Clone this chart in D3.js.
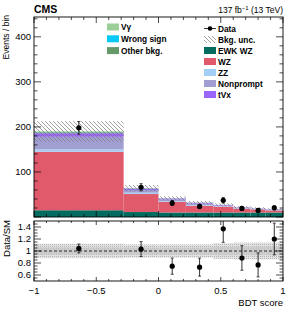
<!DOCTYPE html>
<html>
<head>
<meta charset="utf-8">
<script src="https://cdn.jsdelivr.net/npm/d3@7"></script>
<style>
body { margin: 0; background: #fff; }
text { font-family: "Liberation Sans", Arial, Helvetica, sans-serif; }
</style>
</head>
<body>
<svg id="chart" width="299" height="310"></svg>
<script>
// bin edges in BDT score
var binEdges = [-1, -0.28, 0, 0.22, 0.44, 0.6, 0.74, 0.86, 1];

// background processes, bottom of the stack first
var processes = ["EWK WZ", "WZ", "ZZ", "Nonprompt", "tVx", "Other bkg.", "Wrong sign", "V\u03b3"];
var procColors = {
  "EWK WZ": "#006b5e",
  "WZ": "#e05a6c",
  "ZZ": "#a3cff7",
  "Nonprompt": "#a19fd1",
  "tVx": "#9b67fb",
  "Other bkg.": "#66996a",
  "Wrong sign": "#06c9f7",
  "V\u03b3": "#9ccf98"
};
var ewkWZ     = [15, 11, 10, 10, 10, 10, 10, 10];
var wz        = [130, 40, 24, 15, 13, 8, 6.5, 4.5];
var zz        = [5, 3, 1.5, 1.5, 1, 0.8, 0.5, 0.5];
var nonprompt = [28, 6, 3.5, 3.5, 1.5, 1.5, 1, 1];
var tvx       = [8, 3, 2, 1.5, 1.2, 1, 0.8, 0.8];
var otherBkg  = [2, 0.5, 0.4, 0.4, 0.2, 0.15, 0.15, 0.15];
var wrongSign = [0.5, 0.2, 0.05, 0.05, 0.05, 0.02, 0.02, 0.02];
var vgamma    = [1.5, 0.3, 0.05, 0.05, 0.05, 0.03, 0.03, 0.03];

// relative background uncertainty per bin
var bkgUnc   = [0.12, 0.11, 0.11, 0.11, 0.13, 0.14, 0.14, 0.14];
var bkgUncIn = [0.06, 0.06, 0.06, 0.06, 0.07, 0.07, 0.07, 0.07];

// observed data
var dataCounts = [198, 66, 31, 23.4, 37, 19, 14.6, 20.4];
var dataErr    = [14, 8, 5.6, 4.8, 6.1, 4.4, 3.8, 4.5];

var yTicksTop = [100, 200, 300, 400];
var yTicksRatio = [0.6, 0.8, 1, 1.2, 1.4];
var xTicks = [-1, -0.5, 0, 0.5, 1];

var procValues = {
  "EWK WZ": ewkWZ, "WZ": wz, "ZZ": zz, "Nonprompt": nonprompt, "tVx": tvx,
  "Other bkg.": otherBkg, "Wrong sign": wrongSign, "V\u03b3": vgamma
};

var bins = d3.range(binEdges.length - 1).map(function(i) {
  var row = { lo: binEdges[i], hi: binEdges[i + 1] };
  processes.forEach(function(p) { row[p] = procValues[p][i]; });
  return row;
});
var totals = bins.map(function(b) { return d3.sum(processes, function(p) { return b[p]; }); });

var svg = d3.select("#chart");
var left = 34, right = 283;
var top1 = 17, bot1 = 217, top2 = 221, bot2 = 281;

var x = d3.scaleLinear().domain([-1, 1]).range([left, right]);
var y = d3.scaleLinear().domain([0, 444]).range([bot1, top1]);
var yr = d3.scaleLinear().domain([0.5, 1.5]).range([bot2, top2]);

var defs = svg.append("defs");
defs.append("clipPath").attr("id", "clipTop")
  .append("rect").attr("x", left).attr("y", top1).attr("width", right - left).attr("height", bot1 - top1);
defs.append("clipPath").attr("id", "clipBot")
  .append("rect").attr("x", left).attr("y", top2).attr("width", right - left).attr("height", bot2 - top2);

var hatch = defs.append("pattern").attr("id", "hatch")
  .attr("patternUnits", "userSpaceOnUse").attr("width", 4).attr("height", 4);
hatch.append("path")
  .attr("d", "M0,0L4,4M-1,3L1,5M3,-1L5,1")
  .attr("stroke", "#7a7a7a").attr("stroke-width", 0.7);

var dots = defs.append("pattern").attr("id", "dots")
  .attr("patternUnits", "userSpaceOnUse").attr("width", 2).attr("height", 2);
dots.append("rect").attr("width", 2).attr("height", 2).attr("fill", "#e2e2e2");
dots.append("rect").attr("width", 1).attr("height", 1).attr("fill", "#b4b4b4");

// ---- upper panel: stacked histogram
var stacked = d3.stack().keys(processes)(bins);
var gTop = svg.append("g").attr("clip-path", "url(#clipTop)");

gTop.selectAll("g.layer")
  .data(stacked)
  .enter().append("g")
  .attr("fill", function(d) { return procColors[d.key]; })
  .selectAll("rect")
  .data(function(d) { return d; })
  .enter().append("rect")
  .attr("x", function(d) { return x(d.data.lo); })
  .attr("width", function(d) { return x(d.data.hi) - x(d.data.lo); })
  .attr("y", function(d) { return y(d[1]); })
  .attr("height", function(d) { return y(d[0]) - y(d[1]); });

// background uncertainty
gTop.selectAll("rect.unc")
  .data(bins)
  .enter().append("rect")
  .attr("class", "unc")
  .attr("x", function(d) { return x(d.lo); })
  .attr("width", function(d) { return x(d.hi) - x(d.lo); })
  .attr("y", function(d, i) { return y(totals[i] * (1 + bkgUnc[i])); })
  .attr("height", function(d, i) { return y(totals[i] * (1 - bkgUnc[i])) - y(totals[i] * (1 + bkgUnc[i])); })
  .attr("fill", "url(#hatch)");

// data points
function drawPoints(g, yScale, vals, errs) {
  var pts = g.selectAll("g.pt")
    .data(bins)
    .enter().append("g");
  pts.append("line")
    .attr("x1", function(d) { return x((d.lo + d.hi) / 2); })
    .attr("x2", function(d) { return x((d.lo + d.hi) / 2); })
    .attr("y1", function(d, i) { return yScale(vals[i] - errs[i]); })
    .attr("y2", function(d, i) { return yScale(vals[i] + errs[i]); })
    .attr("stroke", "#000").attr("stroke-width", 0.8);
  [-1, 1].forEach(function(s) {
    pts.append("line")
      .attr("x1", function(d) { return x((d.lo + d.hi) / 2) - 1.5; })
      .attr("x2", function(d) { return x((d.lo + d.hi) / 2) + 1.5; })
      .attr("y1", function(d, i) { return yScale(vals[i] + s * errs[i]); })
      .attr("y2", function(d, i) { return yScale(vals[i] + s * errs[i]); })
      .attr("stroke", "#000").attr("stroke-width", 0.7);
  });
  pts.append("circle")
    .attr("cx", function(d) { return x((d.lo + d.hi) / 2); })
    .attr("cy", function(d, i) { return yScale(vals[i]); })
    .attr("r", 2.6).attr("fill", "#000");
}
drawPoints(gTop, y, dataCounts, dataErr);

// ---- lower panel: ratio
var gBot = svg.append("g").attr("clip-path", "url(#clipBot)");
gBot.selectAll("rect.outer")
  .data(bins).enter().append("rect")
  .attr("x", function(d) { return x(d.lo); })
  .attr("width", function(d) { return x(d.hi) - x(d.lo); })
  .attr("y", function(d, i) { return yr(1 + bkgUnc[i]); })
  .attr("height", function(d, i) { return yr(1 - bkgUnc[i]) - yr(1 + bkgUnc[i]); })
  .attr("fill", "url(#dots)");
gBot.selectAll("rect.inner")
  .data(bins).enter().append("rect")
  .attr("x", function(d) { return x(d.lo); })
  .attr("width", function(d) { return x(d.hi) - x(d.lo); })
  .attr("y", function(d, i) { return yr(1 + bkgUncIn[i]); })
  .attr("height", function(d, i) { return yr(1 - bkgUncIn[i]) - yr(1 + bkgUncIn[i]); })
  .attr("fill", "#c8c8c8").attr("opacity", 0.8);
gBot.append("line")
  .attr("x1", left).attr("x2", right).attr("y1", yr(1)).attr("y2", yr(1))
  .attr("stroke", "#000").attr("stroke-width", 0.8).attr("stroke-dasharray", "3,2");

var ratio = dataCounts.map(function(v, i) { return v / totals[i]; });
var ratioErr = dataErr.map(function(e, i) { return e / totals[i]; });
drawPoints(gBot, yr, ratio, ratioErr);

// ---- frames and ticks
function frame(t, b) {
  svg.append("rect").attr("x", left).attr("y", t).attr("width", right - left).attr("height", b - t)
    .attr("fill", "none").attr("stroke", "#000").attr("stroke-width", 0.9);
}
frame(top1, bot1);
frame(top2, bot2);

function xTicksOn(t, b, majLen) {
  var minors = d3.range(-1, 1.0001, 0.1);
  minors.forEach(function(v) {
    var isMaj = Math.abs(v * 2 - Math.round(v * 2)) < 1e-6;
    var len = isMaj ? majLen : majLen / 2;
    svg.append("line").attr("x1", x(v)).attr("x2", x(v)).attr("y1", b).attr("y2", b - len)
      .attr("stroke", "#000").attr("stroke-width", 0.7);
    svg.append("line").attr("x1", x(v)).attr("x2", x(v)).attr("y1", t).attr("y2", t + len)
      .attr("stroke", "#000").attr("stroke-width", 0.7);
  });
}
xTicksOn(top1, bot1, 6);
xTicksOn(top2, bot2, 4);

function yTicksOn(scale, minorVals, majorVals, majLen) {
  minorVals.forEach(function(v) {
    var isMaj = majorVals.some(function(m) { return Math.abs(m - v) < 1e-6; });
    var len = isMaj ? majLen : majLen / 2;
    svg.append("line").attr("x1", left).attr("x2", left + len).attr("y1", scale(v)).attr("y2", scale(v))
      .attr("stroke", "#000").attr("stroke-width", 0.7);
    svg.append("line").attr("x1", right).attr("x2", right - len).attr("y1", scale(v)).attr("y2", scale(v))
      .attr("stroke", "#000").attr("stroke-width", 0.7);
  });
}
yTicksOn(y, d3.range(0, 441, 20), [0, 100, 200, 300, 400], 7);
yTicksOn(yr, d3.range(0.55, 1.5, 0.05), [0.6, 0.8, 1, 1.2, 1.4], 7);

svg.selectAll("text.ytop").data(yTicksTop).enter().append("text")
  .attr("x", left - 3).attr("y", function(d) { return y(d) + 3.3; })
  .attr("text-anchor", "end").attr("font-size", 9.5).text(function(d) { return d; });
svg.selectAll("text.yrat").data(yTicksRatio).enter().append("text")
  .attr("x", left - 3).attr("y", function(d) { return yr(d) + 3.3; })
  .attr("text-anchor", "end").attr("font-size", 9.5).text(function(d) { return d; });
svg.selectAll("text.xt").data(xTicks).enter().append("text")
  .attr("x", function(d) { return x(d); }).attr("y", 294)
  .attr("text-anchor", "middle").attr("font-size", 9.5)
  .text(function(d) { return d < 0 ? "\u2212" + Math.abs(d) : d; });

// axis titles
svg.append("text").attr("x", right).attr("y", 306).attr("text-anchor", "end")
  .attr("font-size", 9.5).text("BDT score");
svg.append("text").attr("transform", "translate(9," + (top1 - 2) + ") rotate(-90)")
  .attr("text-anchor", "end").attr("font-size", 8.5).text("Events / bin");
svg.append("text").attr("transform", "translate(10," + (top2 - 1) + ") rotate(-90)")
  .attr("text-anchor", "end").attr("font-size", 9.5).text("Data/SM");

svg.append("text").attr("x", left).attr("y", 13).attr("font-size", 10.5)
  .attr("font-weight", "bold").text("CMS");
var lumi = svg.append("text").attr("x", right).attr("y", 13).attr("text-anchor", "end").attr("font-size", 8.5);
lumi.append("tspan").text("137 fb");
lumi.append("tspan").attr("dy", -3).attr("font-size", 6).text("\u22121");
lumi.append("tspan").attr("dy", 3).text(" (13 TeV)");

// ---- legend
var legLeft = ["V\u03b3", "Wrong sign", "Other bkg."];
var legRight = ["Data", "Bkg. unc.", "EWK WZ", "WZ", "ZZ", "Nonprompt", "tVx"];

function legendCol(items, x0, y0, dy) {
  items.forEach(function(name, i) {
    var yy = y0 + i * dy;
    if (name === "Data") {
      svg.append("line").attr("x1", x0).attr("x2", x0 + 12).attr("y1", yy).attr("y2", yy)
        .attr("stroke", "#000").attr("stroke-width", 0.8);
      svg.append("circle").attr("cx", x0 + 6).attr("cy", yy).attr("r", 2.3).attr("fill", "#000");
    } else if (name === "Bkg. unc.") {
      svg.append("rect").attr("x", x0).attr("y", yy - 3.5).attr("width", 12).attr("height", 7)
        .attr("fill", "url(#hatch)");
    } else {
      svg.append("rect").attr("x", x0).attr("y", yy - 3.5).attr("width", 12).attr("height", 7)
        .attr("fill", procColors[name]);
    }
    svg.append("text").attr("x", x0 + 14).attr("y", yy + 3).attr("font-size", 8.3)
      .attr("font-weight", "bold").text(name);
  });
}
legendCol(legLeft, 107, 27, 11.8);
legendCol(legRight, 204, 28.5, 11);
</script>
</body>
</html>
